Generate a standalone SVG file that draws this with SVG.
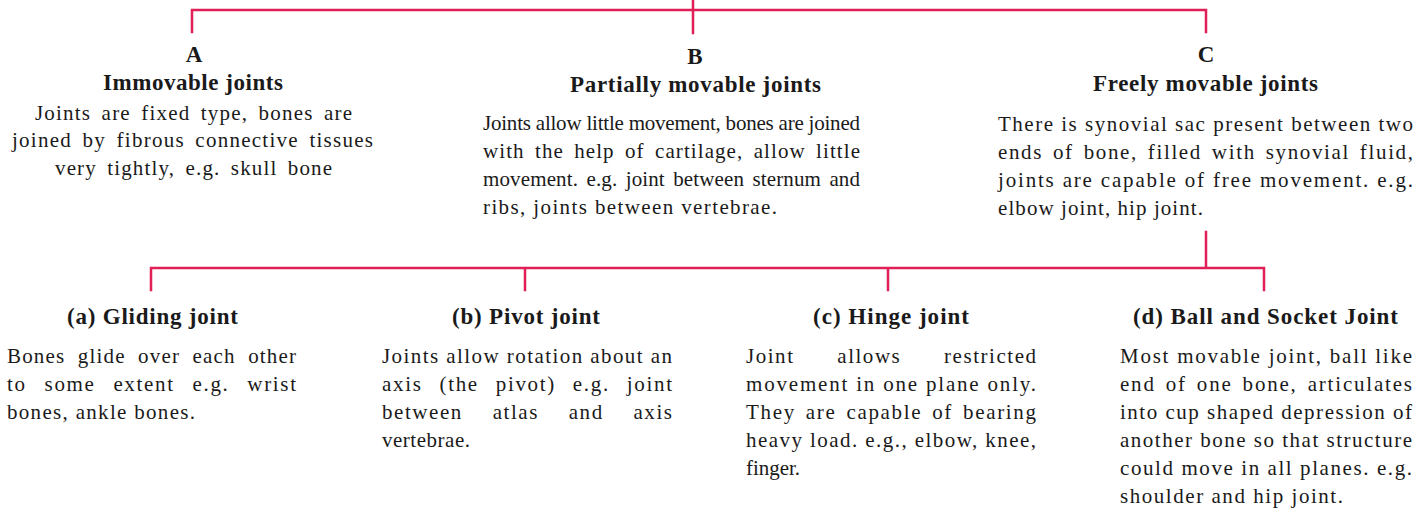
<svg xmlns="http://www.w3.org/2000/svg" width="1427" height="510" viewBox="0 0 1427 510">
<style>
.ln{stroke:#df1f55;stroke-width:2.5;fill:none;stroke-linecap:square}
text{font-family:"Liberation Serif","Times New Roman",serif;fill:#1a1a1a}
.h{font-size:23px;font-weight:bold;text-anchor:middle}
.b{font-size:21px}
.c{text-anchor:middle}
</style>
<rect width="1427" height="510" fill="#ffffff"/>
<g id="connectors">
<path class="ln" d="M693,0 V10 M192,32 V10 H1206 V32 M693,10 V33"/>
<path class="ln" d="M1206,232 V268 M151,290 V268 H1264 V290 M525,268 V290 M888,268 V290"/>
</g>
<g id="nodeA">
<text class="h" x="194" y="62">A</text>
<text class="h" x="193" y="90" textLength="180" lengthAdjust="spacing">Immovable joints</text>
<text class="b c" x="193.5" y="120" textLength="317" lengthAdjust="spacing" word-spacing="4">Joints are fixed type, bones are</text>
<text class="b c" x="192.5" y="147" textLength="361" lengthAdjust="spacing" word-spacing="4">joined by fibrous connective tissues</text>
<text class="b c" x="193.5" y="175" textLength="277" lengthAdjust="spacing" word-spacing="4">very tightly, e.g. skull bone</text>
</g>
<g id="nodeB">
<text class="h" x="695" y="64">B</text>
<text class="h" x="695.5" y="92" textLength="251" lengthAdjust="spacing">Partially movable joints</text>
<text class="b" x="483" y="130" textLength="377" lengthAdjust="spacing">Joints allow little movement, bones are joined</text>
<text class="b" x="483" y="158" textLength="377" lengthAdjust="spacing" word-spacing="4">with the help of cartilage, allow little</text>
<text class="b" x="483" y="186" textLength="377" lengthAdjust="spacing" word-spacing="3">movement. e.g. joint between sternum and</text>
<text class="b" x="483" y="214" textLength="294" lengthAdjust="spacing">ribs, joints between vertebrae.</text>
</g>
<g id="nodeC">
<text class="h" x="1206" y="62">C</text>
<text class="h" x="1205.5" y="91" textLength="225" lengthAdjust="spacing">Freely movable joints</text>
<text class="b" x="998" y="131" textLength="415" lengthAdjust="spacing">There is synovial sac present between two</text>
<text class="b" x="998" y="159" textLength="415" lengthAdjust="spacing" word-spacing="3">ends of bone, filled with synovial fluid,</text>
<text class="b" x="998" y="187" textLength="415" lengthAdjust="spacing">joints are capable of free movement. e.g.</text>
<text class="b" x="998" y="215" textLength="205" lengthAdjust="spacing">elbow joint, hip joint.</text>
</g>
<g id="nodeGliding">
<text class="h" x="152.5" y="324" textLength="171" lengthAdjust="spacing">(a) Gliding joint</text>
<text class="b" x="7" y="363" textLength="289" lengthAdjust="spacing" word-spacing="6">Bones glide over each other</text>
<text class="b" x="7" y="391" textLength="289" lengthAdjust="spacing" word-spacing="11">to some extent e.g. wrist</text>
<text class="b" x="7" y="419" textLength="188" lengthAdjust="spacing">bones, ankle bones.</text>
</g>
<g id="nodePivot">
<text class="h" x="526" y="324" textLength="148" lengthAdjust="spacing">(b) Pivot joint</text>
<text class="b" x="382" y="363" textLength="290" lengthAdjust="spacing">Joints allow rotation about an</text>
<text class="b" x="382" y="391" textLength="290" lengthAdjust="spacing" word-spacing="10">axis (the pivot) e.g. joint</text>
<text class="b" x="382" y="419" textLength="290" lengthAdjust="spacing" word-spacing="23">between atlas and axis</text>
<text class="b" x="382" y="447" textLength="88" lengthAdjust="spacing">vertebrae.</text>
</g>
<g id="nodeHinge">
<text class="h" x="891" y="324" textLength="156" lengthAdjust="spacing">(c) Hinge joint</text>
<text class="b" x="746" y="363" textLength="290" lengthAdjust="spacing" word-spacing="36">Joint allows restricted</text>
<text class="b" x="746" y="391" textLength="290" lengthAdjust="spacing">movement in one plane only.</text>
<text class="b" x="746" y="419" textLength="290" lengthAdjust="spacing" word-spacing="3">They are capable of bearing</text>
<text class="b" x="746" y="447" textLength="290" lengthAdjust="spacing">heavy load. e.g., elbow, knee,</text>
<text class="b" x="746" y="475" textLength="54" lengthAdjust="spacing">finger.</text>
</g>
<g id="nodeBall">
<text class="h" x="1265.5" y="324" textLength="265" lengthAdjust="spacing">(d) Ball and Socket Joint</text>
<text class="b" x="1120" y="363" textLength="292" lengthAdjust="spacing">Most movable joint, ball like</text>
<text class="b" x="1120" y="391" textLength="292" lengthAdjust="spacing" word-spacing="3">end of one bone, articulates</text>
<text class="b" x="1120" y="419" textLength="292" lengthAdjust="spacing">into cup shaped depression of</text>
<text class="b" x="1120" y="447" textLength="292" lengthAdjust="spacing">another bone so that structure</text>
<text class="b" x="1120" y="475" textLength="292" lengthAdjust="spacing">could move in all planes. e.g.</text>
<text class="b" x="1120" y="503" textLength="223" lengthAdjust="spacing">shoulder and hip joint.</text>
</g>
</svg>
